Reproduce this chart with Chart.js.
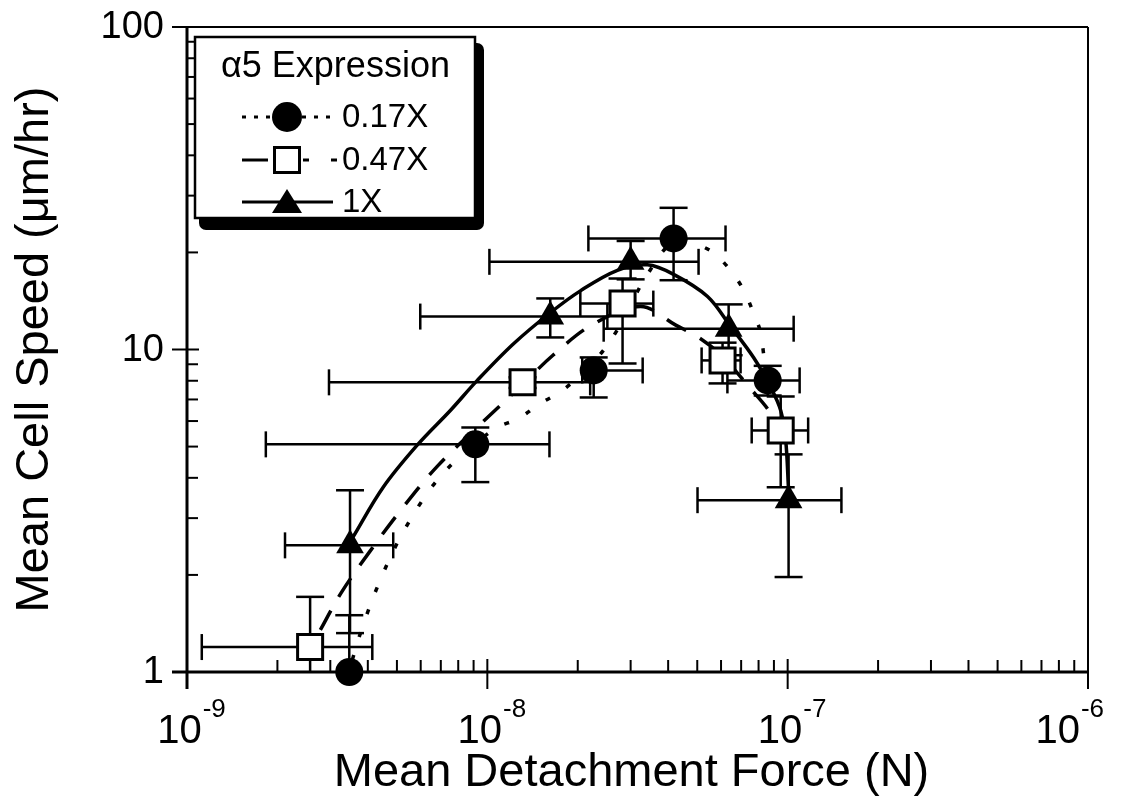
<!DOCTYPE html>
<html>
<head>
<meta charset="utf-8">
<title>Mean Cell Speed vs Mean Detachment Force</title>
<script src="https://cdn.jsdelivr.net/npm/chart.js@4.4.1/dist/chart.umd.min.js"></script>
<style>
  html, body { margin: 0; padding: 0; background: #fff; }
  canvas { display: block; }
</style>
</head>
<body>
<canvas id="speedChart" width="1122" height="803"></canvas>
<script>
var FONT = '"Liberation Sans", Arial, Helvetica, sans-serif';

// axis ticks
var xTickPowers = [-9, -8, -7, -6];
var yTickValues = [1, 10, 100];
var seriesNames = ['0.17X', '0.47X', '1X'];

// a5 0.17X - filled circles
var lowForce   = [3.47e-9, 9.12e-9, 2.26e-8, 4.17e-8, 8.58e-8];
var lowSpeed   = [1.0, 5.08, 8.61, 22.1, 8.02];
var lowForceLo = [3.47e-9, 1.83e-9, 2.07e-8, 2.17e-8, 6.3e-8];
var lowForceHi = [3.47e-9, 1.61e-8, 3.29e-8, 6.21e-8, 1.096e-7];
var lowSpeedLo = [1.0, 3.88, 7.10, 16.4, 7.2];
var lowSpeedHi = [1.50, 5.73, 9.45, 27.5, 8.9];

// a5 0.47X - open squares
var midForce   = [2.57e-9, 1.31e-8, 2.82e-8, 6.07e-8, 9.48e-8];
var midSpeed   = [1.195, 7.91, 13.88, 9.25, 5.61];
var midForceLo = [1.12e-9, 2.97e-9, 2.04e-8, 5.17e-8, 7.59e-8];
var midForceHi = [4.14e-9, 2.2e-8, 3.57e-8, 6.97e-8, 1.17e-7];
var midSpeedLo = [0.68, 7.6, 9.05, 7.85, 3.74];
var midSpeedHi = [1.71, 8.2, 16.6, 10.5, 7.15];

// a5 1X - filled triangles
var highForce   = [3.49e-9, 1.62e-8, 3.0e-8, 6.36e-8, 1.007e-7];
var highSpeed   = [2.47, 12.65, 18.7, 11.6, 3.41];
var highForceLo = [2.12e-9, 5.98e-9, 1.016e-8, 2.44e-8, 5.01e-8];
var highForceHi = [4.86e-9, 2.51e-8, 5.05e-8, 1.047e-7, 1.51e-7];
var highSpeedLo = [1.32, 10.9, 16.5, 9.6, 1.97];
var highSpeedHi = [3.66, 14.4, 21.7, 13.8, 4.73];

// fitted curves
var lowFitForce = [3.55e-9, 3.86e-9, 4.37e-9, 5.09e-9, 6.17e-9, 7.03e-9, 8.0e-9, 1.064e-8, 1.27e-8, 1.50e-8, 1.78e-8,
                   2.20e-8, 2.63e-8, 3.44e-8, 4.24e-8, 5.41e-8, 6.36e-8, 7.13e-8, 7.64e-8, 8.13e-8, 8.32e-8, 8.58e-8];
var lowFitSpeed = [1.09, 1.40, 1.90, 2.58, 3.48, 4.07, 4.60, 5.69, 6.11, 6.80, 7.47,
                   8.92, 11.0, 17.3, 21.7, 20.5, 17.9, 15.3, 13.2, 11.3, 9.65, 8.02];

var midFitForce = [2.78e-9, 3.26e-9, 4.07e-9, 5.21e-9, 6.81e-9, 9.62e-9, 1.31e-8, 1.65e-8, 2.24e-8,
                   3.24e-8, 4.24e-8, 5.13e-8, 6.07e-8, 7.36e-8, 8.78e-8, 9.62e-8];
var midFitSpeed = [1.35, 1.76, 2.37, 3.22, 4.34, 5.94, 7.79, 9.58, 11.95,
                   13.6, 11.9, 10.8, 9.51, 7.74, 6.34, 5.23];

var highFitForce = [3.57e-9, 4.50e-9, 5.84e-9, 7.53e-9, 9.26e-9, 1.22e-8, 1.62e-8, 2.04e-8, 2.71e-8,
                    3.41e-8, 4.17e-8, 5.41e-8, 6.45e-8, 7.70e-8, 8.78e-8, 9.48e-8, 9.85e-8, 1.007e-7];
var highFitSpeed = [2.62, 3.74, 5.05, 6.47, 8.02, 10.4, 13.0, 15.2, 17.6,
                    18.3, 17.1, 14.6, 11.8, 9.44, 7.63, 6.47, 5.23, 3.66];

function toPoints(xs, ys) {
  return xs.map(function (x, i) { return { x: x, y: ys[i] }; });
}

var errorSets = [
  { force: lowForce, speed: lowSpeed, fLo: lowForceLo, fHi: lowForceHi, sLo: lowSpeedLo, sHi: lowSpeedHi },
  { force: midForce, speed: midSpeed, fLo: midForceLo, fHi: midForceHi, sLo: midSpeedLo, sHi: midSpeedHi },
  { force: highForce, speed: highSpeed, fLo: highForceLo, fHi: highForceHi, sLo: highSpeedLo, sHi: highSpeedHi }
];

function seg(ctx, x0, y0, x1, y1) {
  ctx.beginPath();
  ctx.moveTo(x0, y0);
  ctx.lineTo(x1, y1);
  ctx.stroke();
}

// frame, ticks and error bars underneath the data
var axesAndErrors = {
  id: 'axesAndErrors',
  beforeDatasetsDraw: function (chart) {
    var ctx = chart.ctx, a = chart.chartArea;
    var xs = chart.scales.x, ys = chart.scales.y;
    ctx.save();
    ctx.strokeStyle = '#000';

    ctx.lineWidth = 2;
    seg(ctx, a.left, a.top, a.right, a.top);
    seg(ctx, a.right, a.top, a.right, a.bottom + 1);
    ctx.lineWidth = 3;
    seg(ctx, a.left, a.top - 1, a.left, a.bottom + 17);
    seg(ctx, a.left - 15, a.bottom, a.right + 1, a.bottom);

    ctx.lineWidth = 2;
    var p, m, px;
    for (p = xTickPowers[0]; p <= xTickPowers[xTickPowers.length - 1]; p++) {
      px = xs.getPixelForValue(Math.pow(10, p));
      seg(ctx, px, a.bottom - 13, px, a.bottom + 17);
      if (p === xTickPowers[xTickPowers.length - 1]) break;
      for (m = 2; m <= 9; m++) {
        px = xs.getPixelForValue(m * Math.pow(10, p));
        seg(ctx, px, a.bottom, px, a.bottom - 12);
      }
    }
    for (var d = 0; d < yTickValues.length; d++) {
      var py = ys.getPixelForValue(yTickValues[d]);
      seg(ctx, a.left - 15, py, a.left + 12, py);
      if (d === yTickValues.length - 1) break;
      for (m = 2; m <= 9; m++) {
        py = ys.getPixelForValue(m * yTickValues[d]);
        seg(ctx, a.left, py, a.left + 11, py);
      }
    }

    // error bars
    ctx.beginPath();
    ctx.rect(a.left, a.top, a.right - a.left, a.bottom - a.top);
    ctx.clip();
    ctx.lineWidth = 2.5;
    errorSets.forEach(function (s) {
      for (var i = 0; i < s.force.length; i++) {
        var x = xs.getPixelForValue(s.force[i]), y = ys.getPixelForValue(s.speed[i]);
        var x0 = xs.getPixelForValue(s.fLo[i]), x1 = xs.getPixelForValue(s.fHi[i]);
        var y0 = ys.getPixelForValue(s.sLo[i]), y1 = ys.getPixelForValue(s.sHi[i]);
        if (s.fLo[i] < s.force[i]) { seg(ctx, x0, y, x, y); seg(ctx, x0, y - 13, x0, y + 13); }
        if (s.fHi[i] > s.force[i]) { seg(ctx, x, y, x1, y); seg(ctx, x1, y - 13, x1, y + 13); }
        if (s.sLo[i] < s.speed[i]) { seg(ctx, x, y, x, y0); seg(ctx, x - 14, y0, x + 14, y0); }
        if (s.sHi[i] > s.speed[i]) { seg(ctx, x, y, x, y1); seg(ctx, x - 14, y1, x + 14, y1); }
      }
    });
    ctx.restore();
  }
};

// tick labels, axis titles and the boxed legend
var labelsAndLegend = {
  id: 'labelsAndLegend',
  afterDraw: function (chart) {
    var ctx = chart.ctx, a = chart.chartArea;
    var xs = chart.scales.x, ys = chart.scales.y;
    ctx.save();
    ctx.fillStyle = '#000';
    ctx.strokeStyle = '#000';

    // x tick labels: 10 with raised exponent, last one kept inside the canvas
    xTickPowers.forEach(function (p) {
      var px = xs.getPixelForValue(Math.pow(10, p));
      ctx.font = '40px ' + FONT;
      var wBase = ctx.measureText('10').width;
      ctx.font = '26px ' + FONT;
      var wExp = ctx.measureText(String(p)).width;
      var left = Math.min(px + 4 - (wBase + wExp) / 2, 1103 - wBase - wExp);
      ctx.textAlign = 'left';
      ctx.textBaseline = 'alphabetic';
      ctx.font = '40px ' + FONT;
      ctx.fillText('10', left, 743);
      ctx.font = '26px ' + FONT;
      ctx.fillText(String(p), left + wBase + 1, 717);
    });

    // y tick labels
    ctx.font = '38px ' + FONT;
    ctx.textAlign = 'right';
    ctx.textBaseline = 'middle';
    yTickValues.forEach(function (v) {
      ctx.fillText(String(v), a.left - 23, ys.getPixelForValue(v) + 1);
    });

    // axis titles
    ctx.font = '47px ' + FONT;
    ctx.textAlign = 'center';
    ctx.textBaseline = 'alphabetic';
    ctx.fillText('Mean Detachment Force (N)', (a.left + a.right) / 2 - 6, 786);
    ctx.save();
    ctx.translate(48, (a.top + a.bottom) / 2);
    ctx.rotate(-Math.PI / 2);
    ctx.fillText('Mean Cell Speed (\u03bcm/hr)', 0, 0);
    ctx.restore();

    // legend box with heavy shadow
    var bx = 195, by = 37, bw = 280, bh = 181;
    ctx.beginPath();
    ctx.roundRect(bx + 4, by + 6, bw + 5, bh + 6, 7);
    ctx.fill();
    ctx.fillStyle = '#fff';
    ctx.fillRect(bx, by, bw, bh);
    ctx.lineWidth = 2.5;
    ctx.strokeRect(bx, by, bw, bh);
    ctx.fillStyle = '#000';

    ctx.font = '36px ' + FONT;
    ctx.textAlign = 'left';
    ctx.fillText('\u03b15 Expression', 221, 77);

    ctx.font = '33px ' + FONT;
    ctx.textBaseline = 'middle';
    var rows = [117, 160, 202];
    var lx0 = 242, lx1 = 336, mx = 287;

    // 0.17X
    ctx.lineWidth = 3;
    ctx.setLineDash([4, 8]);
    seg(ctx, lx0, rows[0], lx1, rows[0]);
    ctx.setLineDash([]);
    ctx.beginPath();
    ctx.arc(mx, rows[0], 15, 0, Math.PI * 2);
    ctx.fill();

    // 0.47X
    seg(ctx, lx0, rows[1], 268, rows[1]);
    seg(ctx, 303, rows[1], 309, rows[1]);
    seg(ctx, 331, rows[1], 337, rows[1]);
    ctx.fillStyle = '#fff';
    ctx.fillRect(mx - 12.5, rows[1] - 12.5, 25, 25);
    ctx.strokeRect(mx - 12.5, rows[1] - 12.5, 25, 25);
    ctx.fillStyle = '#000';

    // 1X
    seg(ctx, lx0, rows[2], lx1 - 3, rows[2]);
    ctx.beginPath();
    ctx.moveTo(mx, rows[2] - 13);
    ctx.lineTo(mx + 15, rows[2] + 11);
    ctx.lineTo(mx - 15, rows[2] + 11);
    ctx.closePath();
    ctx.fill();

    ctx.fillText(seriesNames[0], 342, rows[0] + 1);
    ctx.fillText(seriesNames[1], 342, rows[1] + 1);
    ctx.fillText(seriesNames[2], 342, rows[2] + 1);
    ctx.restore();
  }
};

var ctx = document.getElementById('speedChart').getContext('2d');
var chart = new Chart(ctx, {
  type: 'scatter',
  data: {
    datasets: [
      {
        label: seriesNames[2],
        data: toPoints(highForce, highSpeed),
        showLine: false,
        clip: false,
        pointStyle: 'triangle',
        pointRadius: 16,
        pointBackgroundColor: '#000',
        pointBorderColor: '#000',
        pointBorderWidth: 0
      },
      {
        label: seriesNames[1],
        data: toPoints(midForce, midSpeed),
        showLine: false,
        clip: false,
        pointStyle: 'rect',
        pointRadius: 17.7,
        pointBackgroundColor: '#fff',
        pointBorderColor: '#000',
        pointBorderWidth: 3
      },
      {
        label: seriesNames[0],
        data: toPoints(lowForce, lowSpeed),
        showLine: false,
        clip: false,
        pointStyle: 'circle',
        pointRadius: 14,
        pointBackgroundColor: '#000',
        pointBorderColor: '#000',
        pointBorderWidth: 0
      },
      {
        label: seriesNames[2] + ' fit',
        data: toPoints(highFitForce, highFitSpeed),
        showLine: true,
        pointRadius: 0,
        borderColor: '#000',
        borderWidth: 3.5,
        tension: 0.35
      },
      {
        label: seriesNames[1] + ' fit',
        data: toPoints(midFitForce, midFitSpeed),
        showLine: true,
        pointRadius: 0,
        borderColor: '#000',
        borderWidth: 3.5,
        borderDash: [22, 16],
        tension: 0.35
      },
      {
        label: seriesNames[0] + ' fit',
        data: toPoints(lowFitForce, lowFitSpeed),
        showLine: true,
        pointRadius: 0,
        borderColor: '#000',
        borderWidth: 3.5,
        borderDash: [5, 19],
        tension: 0.35
      }
    ]
  },
  options: {
    responsive: false,
    animation: false,
    events: [],
    layout: { padding: { left: 187, right: 34, top: 27, bottom: 131 } },
    plugins: {
      legend: { display: false },
      tooltip: { enabled: false }
    },
    scales: {
      x: { type: 'logarithmic', min: 1e-9, max: 1e-6, display: false },
      y: { type: 'logarithmic', min: 1, max: 100, display: false }
    }
  },
  plugins: [axesAndErrors, labelsAndLegend]
});
</script>
</body>
</html>
